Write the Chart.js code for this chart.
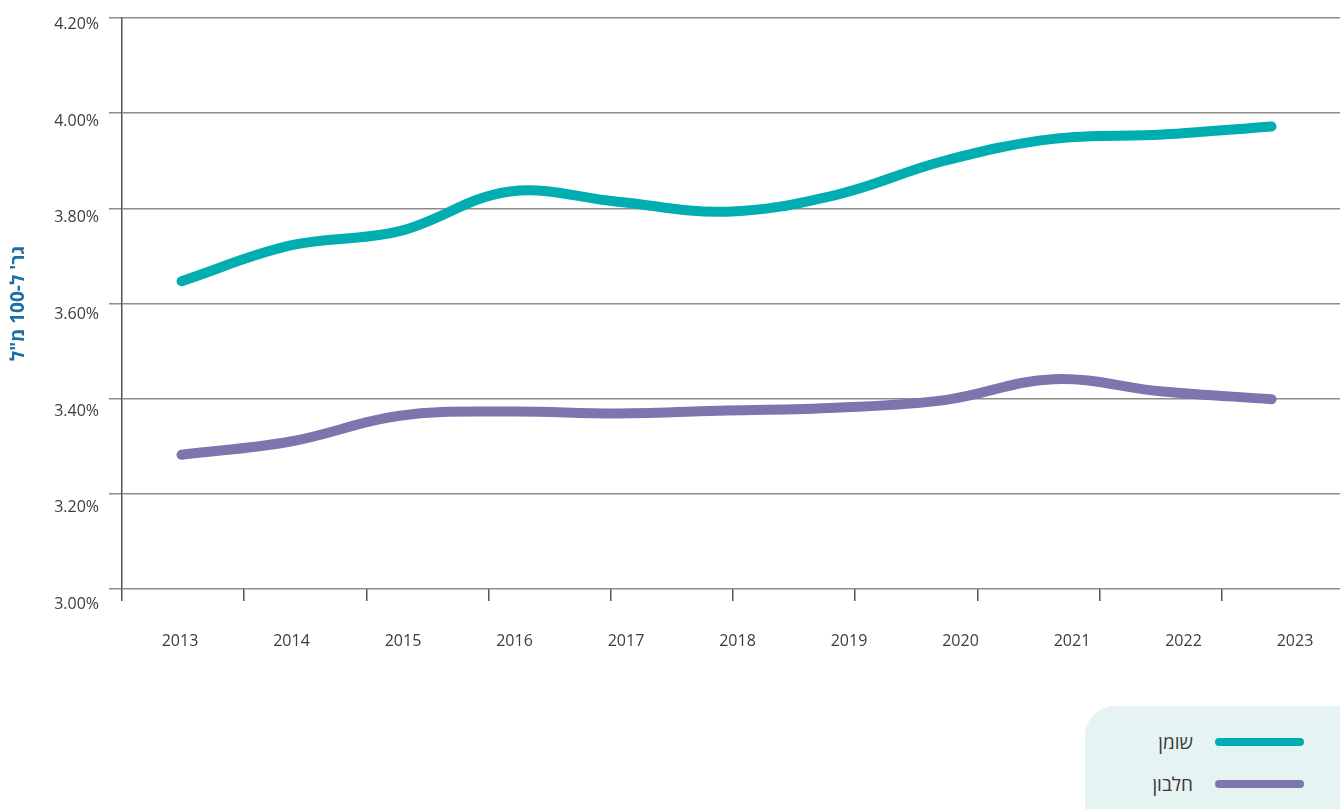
<!DOCTYPE html>
<html lang="he">
<head>
<meta charset="utf-8">
<title>שומן וחלבון</title>
<script src="https://cdn.jsdelivr.net/npm/chart.js@4.4.1/dist/chart.umd.min.js"></script>
<style>
  html, body { margin: 0; padding: 0; background: #fff; overflow: hidden; }
  #wrap { position: relative; width: 1340px; height: 809px; overflow: hidden; }
  #legend {
    position: absolute; left: 1085px; top: 706px; width: 300px; height: 150px;
    box-sizing: border-box; padding-top: 15px;
    background: #e5f3f3; border-radius: 30px;
    font-family: 'Open Sans', 'Liberation Sans', 'DejaVu Sans', sans-serif;
  }
  #legend .row {
    height: 42px; display: flex; flex-direction: row-reverse; align-items: center;
    gap: 22px; padding-right: 81px;
  }
  #legend .swatch { width: 89px; height: 8px; border-radius: 4px; flex: none; }
  #legend .txt { font-size: 19px; line-height: 1; color: #3a3a3a; }
</style>
</head>
<body>
<div id="wrap">
  <canvas id="myChart" width="1340" height="809"></canvas>
  <div id="legend"></div>
</div>
<script>
/* Datos */
const years = [2013, 2014, 2015, 2016, 2017, 2018, 2019, 2020, 2021, 2022, 2023];
const fat = [3.647, 3.722, 3.752, 3.835, 3.814, 3.793, 3.828, 3.900, 3.946, 3.955, 3.972];
const protein = [3.282, 3.310, 3.364, 3.373, 3.369, 3.375, 3.381, 3.397, 3.441, 3.415, 3.399];
const yTicks = [3.0, 3.2, 3.4, 3.6, 3.8, 4.0, 4.2];
const seriesNames = ['שומן', 'חלבון'];
const seriesColors = ['#00aeb1', '#7d75ad'];
const yTitle = 'גר\' ל-100 מ"ל';

const fontFamily = "'Open Sans', 'Liberation Sans', 'DejaVu Sans', sans-serif";
Chart.defaults.font.family = fontFamily;

/* Leyenda en HTML */
const htmlLegend = {
    id: 'htmlLegend',
    afterUpdate(chart) {
        const box = document.getElementById('legend');
        box.innerHTML = '';
        chart.data.datasets.forEach(ds => {
            const row = document.createElement('div');
            row.className = 'row';
            const sw = document.createElement('span');
            sw.className = 'swatch';
            sw.style.background = ds.borderColor;
            const txt = document.createElement('span');
            txt.className = 'txt';
            txt.textContent = ds.label;
            row.appendChild(sw);
            row.appendChild(txt);
            box.appendChild(row);
        });
    }
};

function lineSet(label, data, color) {
    return {
        label: label,
        data: data,
        borderColor: color,
        backgroundColor: color,
        borderWidth: 10,
        borderCapStyle: 'round',
        borderJoinStyle: 'round',
        pointRadius: 0,
        tension: 0.38,
        fill: false
    };
}

const config = {
    type: 'line',
    data: {
        labels: years,
        datasets: [
            lineSet(seriesNames[0], fat, seriesColors[0]),
            lineSet(seriesNames[1], protein, seriesColors[1])
        ]
    },
    options: {
        responsive: false,
        animation: false,
        layout: { padding: { top: 18, right: 0, bottom: 0, left: 0 } },
        plugins: {
            legend: { display: false },
            tooltip: { enabled: false }
        },
        scales: {
            // data axis (hidden)
            x: { type: 'linear', display: false, min: 2012.454, max: 2023.628 },
            // tick marks under the plot
            xt: {
                type: 'linear', position: 'bottom', weight: 0, min: 0, max: 9.967,
                ticks: { display: false, stepSize: 1, includeBounds: false },
                grid: { drawOnChartArea: false, drawTicks: true, tickLength: 12, color: '#555', tickColor: '#555', lineWidth: 1.5 },
                border: { display: false },
                afterFit: s => { s.height = 43; }
            },
            // year labels
            xl: {
                type: 'linear', position: 'bottom', weight: 1, min: 2012.4798, max: 2023.4036,
                afterBuildTicks: s => { s.ticks = years.map(v => ({ value: v })); },
                ticks: { callback: v => String(v), padding: 0, autoSkip: false, maxRotation: 0, color: '#3c3c3c', font: { size: 16 } },
                grid: { display: false, drawTicks: false },
                border: { display: false },
                afterFit: s => { s.height = 177; }
            },
            y: {
                type: 'linear', position: 'left', weight: 0, min: 3.0, max: 4.2,
                ticks: { display: false, stepSize: 0.2 },
                grid: { color: '#8c8c8c', lineWidth: 1.5, tickLength: 13 },
                border: { color: '#555', width: 1.5 },
                afterFit: s => { s.width = 23; }
            },
            // percent labels + title
            yl: {
                type: 'linear', position: 'left', weight: 1, min: 3.03207, max: 4.21345,
                afterBuildTicks: s => { s.ticks = yTicks.map(v => ({ value: v })); },
                ticks: { callback: v => v.toFixed(2) + '%', padding: 0, color: '#3c3c3c', font: { size: 16 } },
                grid: { display: false, drawTicks: false },
                border: { display: false },
                title: {
                    display: true, text: yTitle, color: '#1b6ea6',
                    font: { size: 19, weight: 'bold' }, padding: { top: 7, bottom: 0 }
                },
                afterFit: s => { s.width = 99; }
            }
        }
    },
    plugins: [htmlLegend]
};

const myChart = new Chart(document.getElementById('myChart'), config);
</script>
</body>
</html>
